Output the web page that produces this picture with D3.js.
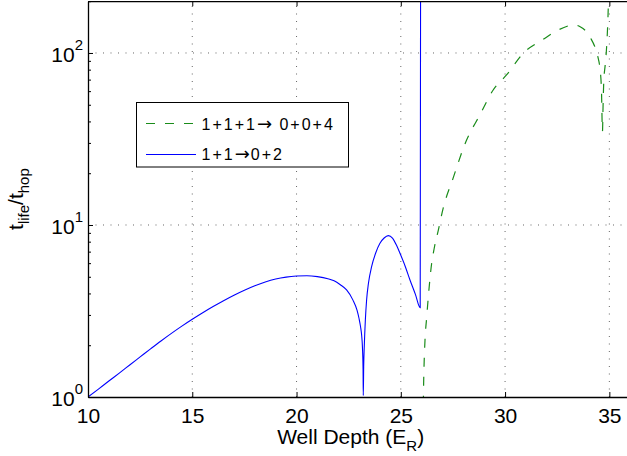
<!DOCTYPE html>
<html>
<head>
<meta charset="utf-8">
<script src="https://cdn.jsdelivr.net/npm/d3@7"></script>
<style>
  html, body { margin: 0; padding: 0; background: #fff; }
  svg { display: block; font-family: "Liberation Sans", Arial, Helvetica, sans-serif; }
</style>
</head>
<body>
<svg id="chart" width="627" height="456"></svg>
<script>
// ---- data ----
const xTickValues = [10, 15, 20, 25, 30, 35];
const yTickValues = [1, 10, 100];
const yTickExponents = ["0", "1", "2"];

// legend entries: [before arrow, after arrow]
const seriesNames = [["1+1+1", " 0+0+4"], ["1+1", "0+2"]];

// 1+1 -> 0+2 (blue, solid)
const blueX = [10, 10.5, 11, 11.5, 12, 12.5, 13, 13.5, 14, 14.5, 15, 15.5, 16, 16.5, 17, 17.5, 18, 18.5, 19, 19.5, 20, 20.5, 21, 21.5, 21.8, 22.1, 22.4, 22.7, 22.9, 23.0, 23.07, 23.12, 23.16, 23.19, 23.2,
  23.22, 23.25, 23.3, 23.36, 23.45, 23.6, 23.8, 24.0, 24.2, 24.4, 24.6, 24.8, 24.96, 25.2, 25.44, 25.7, 25.93, 25.95];
const blueY = [1.0, 1.112, 1.239, 1.377, 1.535, 1.71, 1.905, 2.118, 2.344, 2.582, 2.831, 3.09, 3.357, 3.631, 3.908, 4.178, 4.436, 4.667, 4.853, 4.977, 5.047, 5.07, 5.01, 4.875, 4.74, 4.49, 4.19, 3.67, 3.20, 2.85, 2.56, 2.30, 1.95, 1.45, 1.02,
  1.5, 2.0, 2.8, 3.66, 4.6, 5.72, 6.9, 7.83, 8.4, 8.67, 8.4, 7.6, 6.85, 5.8, 4.79, 3.95, 3.3, 400];

// 1+1+1 -> 0+0+4 (green, dashed)
const greenX = [26.08, 26.1, 26.12, 26.16, 26.24, 26.32, 26.48, 26.6, 26.8, 27.03, 27.5, 28.12, 28.79, 29.43, 30.07, 30.87, 31.83, 32.5, 33.02, 33.27, 33.6, 33.9, 34.1, 34.3, 34.45, 34.54, 34.62, 34.67,
  34.7, 34.73, 34.8, 34.86, 34.94, 34.98];
const greenY = [0.9, 1.3, 1.6, 2.14, 2.9, 3.83, 5.99, 7.3, 9.35, 12.5, 18.6, 30.5, 43.6, 60.9, 74.5, 99.6, 120, 135, 143.6, 146, 142, 133, 122, 109, 95, 83, 62, 35,
  50, 67, 85, 104, 170, 260];

// ---- chart ----
const svg = d3.select("#chart");
svg.append("rect").attr("width", 627).attr("height", 456).attr("fill", "#fff");

const xScale = d3.scaleLinear().domain([10, 36]).range([88, 630.2]);
const yScale = d3.scaleLog().domain([1, 200]).range([397, 1.2]);

const pLeft = xScale.range()[0], pRight = xScale.range()[1];
const pBottom = yScale.range()[0], pTop = yScale.range()[1];

svg.append("defs").append("clipPath").attr("id", "clip")
  .append("rect").attr("x", pLeft).attr("y", pTop).attr("width", pRight - pLeft).attr("height", pBottom - pTop);

// grid
const grid = svg.append("g").attr("stroke", "#000").attr("stroke-width", 0.8).attr("stroke-dasharray", "1,6.5").attr("opacity", 0.75);
grid.selectAll("line.gx").data(xTickValues.filter(v => v > 10)).join("line")
  .attr("x1", d => xScale(d)).attr("x2", d => xScale(d)).attr("y1", pBottom).attr("y2", pTop);
grid.selectAll("line.gy").data(yTickValues.filter(v => v > 1)).join("line")
  .attr("y1", d => yScale(d)).attr("y2", d => yScale(d)).attr("x1", pLeft).attr("x2", pRight);

// data lines
const plot = svg.append("g").attr("clip-path", "url(#clip)");
const line = d3.line().x(d => xScale(d[0])).y(d => yScale(d[1])).curve(d3.curveMonotoneX);

const greenColor = "#1a8c1a", blueColor = "#0000ff";
plot.append("path").datum(greenX.map((v, i) => [v, greenY[i]]))
  .attr("d", line).attr("fill", "none").attr("stroke", greenColor).attr("stroke-width", 1.2)
  .attr("stroke-dasharray", "9,10");
plot.append("path").datum(blueX.map((v, i) => [v, blueY[i]]))
  .attr("d", line).attr("fill", "none").attr("stroke", blueColor).attr("stroke-width", 1.1);

// axes
const fontSize = 21;
const xAxis = d3.axisBottom(xScale).tickValues(xTickValues).tickSizeInner(-5).tickSizeOuter(0).tickPadding(11).tickFormat(d3.format("d"));
const gx = svg.append("g").attr("transform", `translate(0,${pBottom})`).call(xAxis);
gx.select(".domain").attr("stroke-width", 1.3);
gx.selectAll("text").attr("font-size", fontSize).attr("font-family", "Liberation Sans, Arial, sans-serif").attr("fill", "#000");

const xAxisTop = d3.axisTop(xScale).tickValues(xTickValues).tickSizeInner(-5).tickSizeOuter(0).tickFormat("");
const gxt = svg.append("g").attr("transform", `translate(0,${pTop})`).call(xAxisTop);
gxt.select(".domain").attr("stroke-width", 1.3);

const yAxis = d3.axisLeft(yScale).tickValues(yTickValues).tickSizeInner(-5).tickSizeOuter(0).tickFormat("");
const gy = svg.append("g").attr("transform", `translate(${pLeft},0)`).call(yAxis);
gy.select(".domain").attr("stroke-width", 1.3);

const minorTicks = [];
[1, 10, 100].forEach(base => [2, 3, 4, 5, 6, 7, 8, 9].forEach(m => { if (base * m <= 200) minorTicks.push(base * m); }));
const yMinor = d3.axisLeft(yScale).tickValues(minorTicks).tickSizeInner(-3).tickSizeOuter(0).tickFormat("");
const gym = svg.append("g").attr("transform", `translate(${pLeft},0)`).call(yMinor);
gym.select(".domain").remove();

// y tick labels 10^k
const ylab = svg.append("g").attr("font-size", fontSize).attr("fill", "#000");
yTickValues.forEach((v, i) => {
  const t = ylab.append("text").attr("x", pLeft - 5).attr("y", yScale(v) + 9).attr("text-anchor", "end");
  t.append("tspan").text("10");
  t.append("tspan").attr("font-size", 15).attr("dy", -12).text(yTickExponents[i]);
});

// x axis label
const xl = svg.append("text").attr("x", (pLeft + 609.3) / 2 + 2).attr("y", 444).attr("text-anchor", "middle")
  .attr("font-size", fontSize).attr("fill", "#000");
xl.append("tspan").text("Well Depth (E");
xl.append("tspan").attr("font-size", 15).attr("dy", 7).text("R");
xl.append("tspan").attr("dy", -7).text(")");

// y axis label
const yl = svg.append("text").attr("transform", `translate(23,${(pTop + pBottom) / 2}) rotate(-90)`)
  .attr("text-anchor", "middle").attr("font-size", fontSize).attr("fill", "#000");
yl.append("tspan").text("t");
yl.append("tspan").attr("font-size", 15).attr("dy", 6).text("life");
yl.append("tspan").attr("dy", -6).text("/t");
yl.append("tspan").attr("font-size", 15).attr("dy", 6).text("hop");

// legend
const lg = svg.append("g");
lg.append("rect").attr("x", 136.5).attr("y", 102.5).attr("width", 212).attr("height", 64.5)
  .attr("fill", "#fff").attr("stroke", "#000").attr("stroke-width", 1);
const rows = [
  { name: seriesNames[0], color: greenColor, dash: "9,10", ly: 123.5, ty: 129.5 },
  { name: seriesNames[1], color: blueColor, dash: null, ly: 154.5, ty: 160 }
];
rows.forEach(r => {
  lg.append("line").attr("x1", 146).attr("x2", 196).attr("y1", r.ly).attr("y2", r.ly)
    .attr("stroke", r.color).attr("stroke-width", 1.2).attr("stroke-dasharray", r.dash);
  const t = lg.append("text").attr("x", 201.5).attr("y", r.ty).attr("font-size", 16)
    .attr("letter-spacing", 2).attr("fill", "#000");
  t.append("tspan").text(r.name[0]);
  t.append("tspan").attr("font-family", "DejaVu Sans").attr("font-size", 18).attr("letter-spacing", 1).text("\u2192");
  t.append("tspan").text(r.name[1]);
});
</script>
</body>
</html>
